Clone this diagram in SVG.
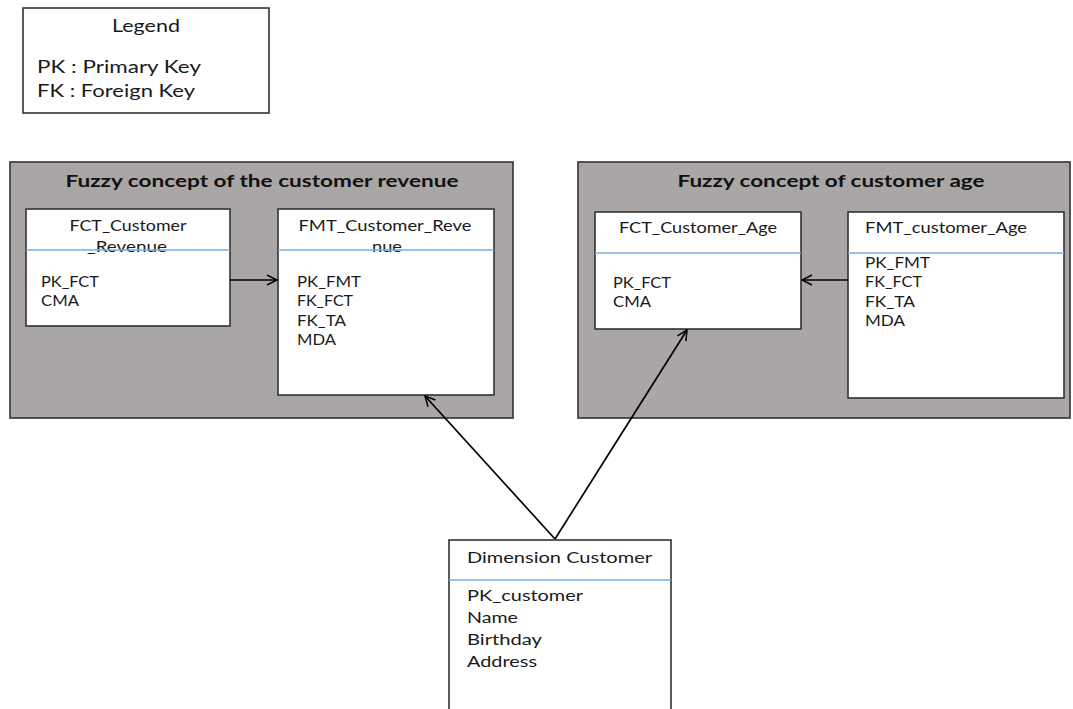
<svg xmlns="http://www.w3.org/2000/svg" width="1073" height="709" viewBox="0 0 1073 709">
<defs>
<marker id="arr" viewBox="0 0 12 12" refX="11" refY="6" markerWidth="12" markerHeight="12" markerUnits="userSpaceOnUse" orient="auto">
<path d="M1,1 L11,6 L1,11" fill="none" stroke="#000" stroke-width="1.5"/>
</marker>
<style>
.t{font-family:Lato,"Open Sans","Liberation Sans",sans-serif;font-size:15.5px;fill:#1a1a1a}
.l{font-size:17.5px}
.h{font-family:Lato,"Open Sans","Liberation Sans",sans-serif;font-size:17.5px;font-weight:bold;fill:#111}
.box{fill:#fff;stroke:#333;stroke-width:1.6}
.grp{fill:#aaa6a5;stroke:#333;stroke-width:1.6}
.sep{stroke:#7aaee0;stroke-width:1.5}
.c{text-anchor:middle}
.con{stroke:#000;stroke-width:1.7;fill:none;marker-end:url(#arr)}
</style>
</defs>
<rect width="1073" height="709" fill="#fff"/>
<g id="legend">
<rect class="box" x="23" y="8" width="246" height="105"/>
<text class="t l c" x="146" y="32" textLength="68" lengthAdjust="spacingAndGlyphs">Legend</text>
<text class="t l" x="37" y="73" textLength="164" lengthAdjust="spacingAndGlyphs">PK : Primary Key</text>
<text class="t l" x="37" y="97" textLength="158" lengthAdjust="spacingAndGlyphs">FK : Foreign Key</text>
</g>
<g id="group-revenue">
<rect class="grp" x="10" y="162" width="503" height="256"/>
<text class="h c" x="262" y="187" textLength="393" lengthAdjust="spacingAndGlyphs">Fuzzy concept of the customer revenue</text>
</g>
<g id="group-age">
<rect class="grp" x="578" y="162" width="492" height="256"/>
<text class="h c" x="831" y="187" textLength="307" lengthAdjust="spacingAndGlyphs">Fuzzy concept of customer age</text>
</g>
<g id="fct-revenue">
<rect class="box" x="26" y="209" width="204" height="117"/>
<text class="t c" x="128" y="231" textLength="117" lengthAdjust="spacingAndGlyphs">FCT_Customer</text>
<text class="t c" x="127" y="252" textLength="80" lengthAdjust="spacingAndGlyphs">_Revenue</text>
<line class="sep" x1="26" y1="250" x2="230" y2="250"/>
<text class="t" x="41" y="287" textLength="58" lengthAdjust="spacingAndGlyphs">PK_FCT</text>
<text class="t" x="41" y="306" textLength="38" lengthAdjust="spacingAndGlyphs">CMA</text>
</g>
<g id="fmt-revenue">
<rect class="box" x="278" y="209" width="216" height="186"/>
<text class="t c" x="385" y="231" textLength="173" lengthAdjust="spacingAndGlyphs">FMT_Customer_Reve</text>
<text class="t c" x="387" y="252" textLength="30" lengthAdjust="spacingAndGlyphs">nue</text>
<line class="sep" x1="278" y1="250" x2="494" y2="250"/>
<text class="t" x="297" y="287" textLength="64" lengthAdjust="spacingAndGlyphs">PK_FMT</text>
<text class="t" x="297" y="306" textLength="56" lengthAdjust="spacingAndGlyphs">FK_FCT</text>
<text class="t" x="297" y="326" textLength="49" lengthAdjust="spacingAndGlyphs">FK_TA</text>
<text class="t" x="297" y="345" textLength="39" lengthAdjust="spacingAndGlyphs">MDA</text>
</g>
<g id="fct-age">
<rect class="box" x="595" y="212" width="206" height="117"/>
<text class="t c" x="698" y="233" textLength="158" lengthAdjust="spacingAndGlyphs">FCT_Customer_Age</text>
<line class="sep" x1="595" y1="253" x2="801" y2="253"/>
<text class="t" x="613" y="288" textLength="58" lengthAdjust="spacingAndGlyphs">PK_FCT</text>
<text class="t" x="613" y="307" textLength="38" lengthAdjust="spacingAndGlyphs">CMA</text>
</g>
<g id="fmt-age">
<rect class="box" x="848" y="212" width="216" height="186"/>
<text class="t" x="865" y="233" textLength="162" lengthAdjust="spacingAndGlyphs">FMT_customer_Age</text>
<line class="sep" x1="848" y1="253" x2="1064" y2="253"/>
<text class="t" x="865" y="268" textLength="65" lengthAdjust="spacingAndGlyphs">PK_FMT</text>
<text class="t" x="865" y="287" textLength="57" lengthAdjust="spacingAndGlyphs">FK_FCT</text>
<text class="t" x="865" y="307" textLength="50" lengthAdjust="spacingAndGlyphs">FK_TA</text>
<text class="t" x="865" y="326" textLength="40" lengthAdjust="spacingAndGlyphs">MDA</text>
</g>
<g id="dimension-customer">
<rect class="box" x="449" y="540" width="222" height="175"/>
<text class="t" x="467" y="563" textLength="185" lengthAdjust="spacingAndGlyphs">Dimension Customer</text>
<line class="sep" x1="449" y1="580" x2="671" y2="580"/>
<text class="t" x="467" y="601" textLength="116" lengthAdjust="spacingAndGlyphs">PK_customer</text>
<text class="t" x="467" y="623" textLength="51" lengthAdjust="spacingAndGlyphs">Name</text>
<text class="t" x="467" y="645" textLength="75" lengthAdjust="spacingAndGlyphs">Birthday</text>
<text class="t" x="467" y="667" textLength="70" lengthAdjust="spacingAndGlyphs">Address</text>
</g>
<g id="connectors">
<line class="con" x1="555" y1="539" x2="425" y2="396"/>
<line class="con" x1="555" y1="539" x2="687" y2="330"/>
<line class="con" x1="230" y1="280" x2="277" y2="280"/>
<line class="con" x1="848" y1="280" x2="802" y2="280"/>
</g>
</svg>
